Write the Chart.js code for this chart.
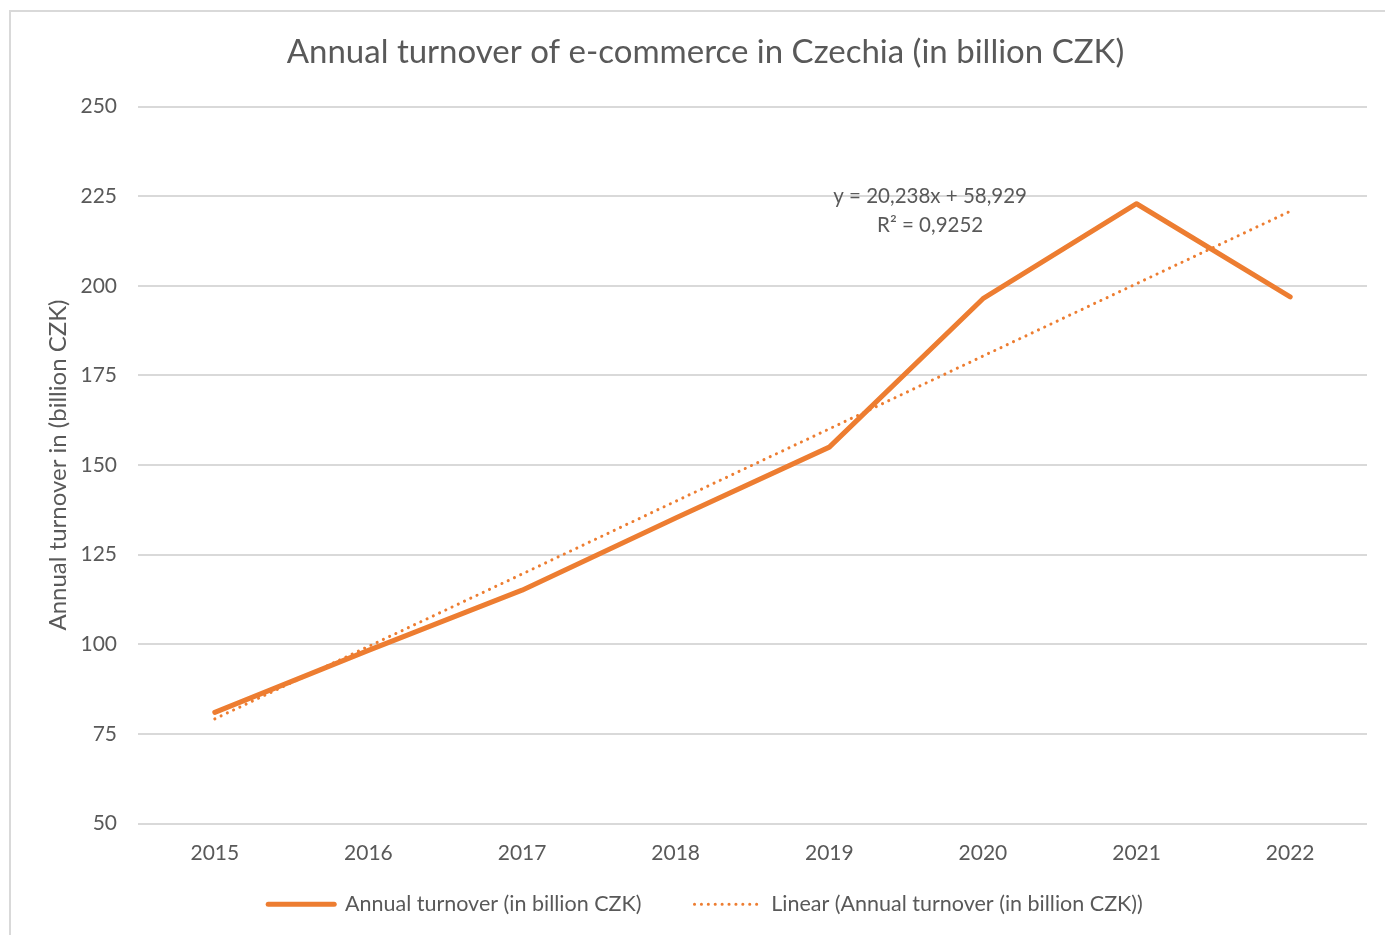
<!DOCTYPE html>
<html>
<head>
<meta charset="utf-8">
<script src="https://cdn.jsdelivr.net/npm/chart.js@4.4.1/dist/chart.umd.min.js"></script>
<style>
  body { margin: 0; background: #fff; overflow: hidden; }
  #wrap { position: relative; width: 1385px; height: 935px; }
  #frame { position: absolute; left: 9px; top: 10px; width: 1400px; height: 950px;
           border-left: 2px solid #d9d9d9; border-top: 2px solid #d9d9d9; pointer-events: none; }
</style>
</head>
<body>
<div id="wrap">
  <canvas id="turnoverChart" width="1385" height="935"></canvas>
  <div id="frame"></div>
</div>
<script>
const years = ['2015', '2016', '2017', '2018', '2019', '2020', '2021', '2022'];
const turnover = [81, 98.3, 115.1, 135.2, 155, 196.4, 222.9, 196.9];
const trendValues = [79.2, 99.4, 119.6, 139.9, 160.1, 180.4, 200.6, 220.8];
const yTicks = [50, 75, 100, 125, 150, 175, 200, 225, 250];
const trendText = ['y = 20,238x + 58,929', 'R\u00b2 = 0,9252'];

const orange = '#ED7D31';
const textColor = '#595959';
const fontFamily = 'Lato, "Open Sans", sans-serif';

// trendline equation label
const trendLabel = {
    id: 'trendLabel',
    afterDatasetsDraw(chart) {
        const ctx = chart.ctx;
        const x = chart.scales.x;
        const y = chart.scales.y;
        const cx = (x.getPixelForValue(4) + x.getPixelForValue(5)) / 2 + 24;
        ctx.save();
        ctx.font = '20.5px ' + fontFamily;
        ctx.fillStyle = textColor;
        ctx.textAlign = 'center';
        ctx.textBaseline = 'middle';
        ctx.fillText(trendText[0], cx, y.getPixelForValue(224.9));
        ctx.fillText(trendText[1], cx, y.getPixelForValue(216.8));
        ctx.restore();
    }
};

const ctx = document.getElementById('turnoverChart').getContext('2d');
new Chart(ctx, {
    type: 'line',
    data: {
        labels: years,
        datasets: [{
            label: 'Annual turnover (in billion CZK)',
            data: turnover,
            borderColor: orange,
            backgroundColor: orange,
            borderWidth: 5,
            borderCapStyle: 'round',
            borderJoinStyle: 'round',
            pointRadius: 0,
            tension: 0
        }, {
            label: 'Linear (Annual turnover (in billion CZK))',
            data: trendValues,
            borderColor: orange,
            backgroundColor: orange,
            borderWidth: 3,
            borderDash: [0.1, 6.8],
            borderCapStyle: 'round',
            pointRadius: 0,
            tension: 0
        }]
    },
    options: {
        responsive: false,
        animation: false,
        layout: { padding: { left: 44, right: 18, top: 0, bottom: 10 } },
        plugins: {
            title: {
                display: true,
                text: 'Annual turnover of e-commerce in Czechia (in billion CZK)',
                color: textColor,
                font: { family: fontFamily, size: 33, weight: 'normal' },
                padding: { top: 33, bottom: 34 }
            },
            legend: {
                position: 'bottom',
                labels: {
                    color: textColor,
                    font: { family: fontFamily, size: 21.5 },
                    usePointStyle: true,
                    pointStyleWidth: 66,
                    boxWidth: 66,
                    boxHeight: 20,
                    padding: 10,
                    generateLabels(chart) {
                        return chart.data.datasets.map((ds, i) => ({
                            // trailing spaces widen the gap between the two items
                            text: i === 0 ? ds.label + '\u2003\u2003\u2002' : ds.label,
                            fillStyle: ds.borderColor,
                            strokeStyle: ds.borderColor,
                            fontColor: textColor,
                            lineWidth: ds.borderWidth,
                            lineDash: ds.borderDash || [],
                            lineCap: 'round',
                            pointStyle: 'line',
                            datasetIndex: i,
                            hidden: false
                        }));
                    }
                }
            },
            tooltip: { enabled: false }
        },
        scales: {
            x: {
                offset: true,
                grid: { display: false },
                border: { display: false },
                afterFit(axis) { axis.height = 60; },
                ticks: { color: textColor, font: { family: fontFamily, size: 21 }, padding: 9 }
            },
            y: {
                min: 50,
                max: 250,
                afterBuildTicks(axis) {
                    axis.ticks = yTicks.map(v => ({ value: v }));
                },
                afterFit(axis) { axis.width = 94; },
                grid: { color: '#d9d9d9', lineWidth: 2, drawTicks: false },
                border: { display: false },
                ticks: { color: textColor, font: { family: fontFamily, size: 21 }, padding: 21 },
                title: {
                    display: true,
                    text: 'Annual turnover in (billion CZK)',
                    color: textColor,
                    font: { family: fontFamily, size: 24 },
                    padding: 0
                }
            }
        }
    },
    plugins: [trendLabel]
});
</script>
</body>
</html>
